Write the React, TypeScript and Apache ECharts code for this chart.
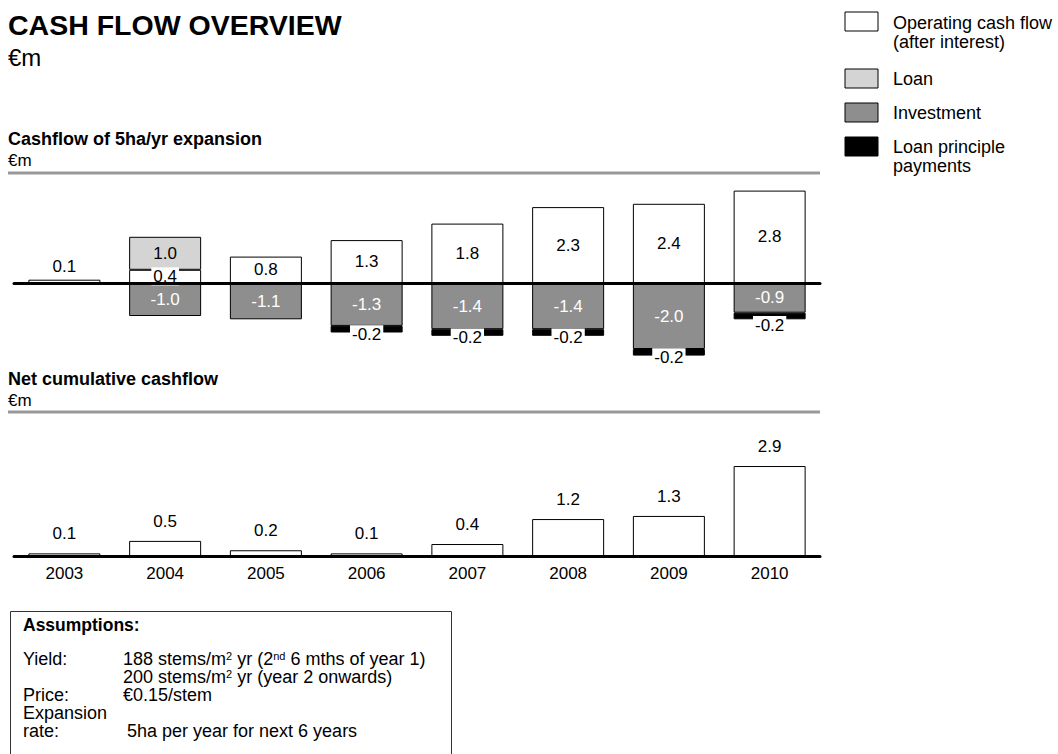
import React, { useEffect, useRef } from 'react';
import * as echarts from 'echarts';

const FONT = '"Liberation Sans", Arial, Helvetica, sans-serif';

const years = ['2003', '2004', '2005', '2006', '2007', '2008', '2009', '2010'];
const operating = [0.1, 0.4, 0.8, 1.3, 1.8, 2.3, 2.4, 2.8];
const loan: (number | null)[] = [null, 1.0, null, null, null, null, null, null];
const investment: (number | null)[] = [null, -1.0, -1.1, -1.3, -1.4, -1.4, -2.0, -0.9];
const principal: (number | null)[] = [null, null, null, -0.2, -0.2, -0.2, -0.2, -0.2];
const cumulative = [0.1, 0.5, 0.2, 0.1, 0.4, 1.2, 1.3, 2.9];

const legendNames = [
  ['Operating cash flow', '(after interest)'],
  ['Loan'],
  ['Investment'],
  ['Loan principle', 'payments'],
];

const fmt = (p: any) => Number(p.value).toFixed(1);
const v = (x: number | null) => (x === null ? '-' : x);

function buildOption() {
  const black = '#000';
  const txt = (x: number, y: number, text: string, size: number, bold = false, extra: any = {}) => ({
    type: 'text',
    x,
    y,
    style: {
      text,
      fontSize: size,
      fontWeight: bold ? 'bold' : 'normal',
      fontFamily: FONT,
      fill: black,
      verticalAlign: 'middle',
      ...extra,
    },
  });

  const legendColors = ['#ffffff', '#d4d4d4', '#8e8e8e', '#000000'];
  const legendTops = [12, 69, 103, 137];
  const legendTextY = [[23, 42], [79], [113], [147, 166]];
  const legendGraphics: any[] = [];
  legendNames.forEach((lines, i) => {
    legendGraphics.push({
      type: 'rect',
      shape: { x: 845, y: legendTops[i], width: 33, height: 19 },
      style: { fill: legendColors[i], stroke: '#000', lineWidth: 1 },
    });
    lines.forEach((l, j) => legendGraphics.push(txt(893, legendTextY[i][j], l, 18, false, { lineHeight: 18 })));
  });

  const rich = {
    a: { fontSize: 18, fontFamily: FONT, lineHeight: 17, verticalAlign: 'bottom' },
    s: { fontSize: 11, fontFamily: FONT, lineHeight: 5, verticalAlign: 'top' },
  };
  const richTxt = (x: number, y: number, text: string) => ({
    type: 'text',
    x,
    y,
    style: { text, rich, fill: black, verticalAlign: 'middle', fontSize: 18, fontFamily: FONT, lineHeight: 17 },
  });
  const at = (x: number, y: number, text: string) => txt(x, y, text, 18, false, { lineHeight: 17 });

  const graphic: any[] = [
    txt(8, 25, 'CASH FLOW OVERVIEW', 28.5, true),
    txt(8, 57, '€m', 24),
    txt(8, 139, 'Cashflow of 5ha/yr expansion', 18, true),
    txt(8, 160, '€m', 17),
    { type: 'rect', shape: { x: 8, y: 171.5, width: 812, height: 3 }, style: { fill: '#999' } },
    txt(8, 379, 'Net cumulative cashflow', 18, true),
    txt(8, 400, '€m', 17),
    { type: 'rect', shape: { x: 8, y: 410.5, width: 812, height: 3 }, style: { fill: '#999' } },
    ...legendGraphics,
    {
      type: 'rect',
      shape: { x: 10.5, y: 611.5, width: 441, height: 200 },
      style: { fill: 'none', stroke: '#333', lineWidth: 1 },
    },
    txt(23, 625, 'Assumptions:', 17.5, true),
    at(23, 659, 'Yield:'),
    richTxt(123, 659, '{a|188 stems/m}{s|2}{a| yr (2}{s|nd}{a| 6 mths of year 1)}'),
    richTxt(123, 677, '{a|200 stems/m}{s|2}{a| yr (year 2 onwards)}'),
    at(23, 695, 'Price:'),
    at(123, 695, '€0.15/stem'),
    at(23, 713, 'Expansion'),
    at(23, 731, 'rate:'),
    at(127, 731, '5ha per year for next 6 years'),
  ];

  const axisX = (grid: number, showLabels: boolean) => ({
    type: 'category',
    gridIndex: grid,
    data: years,
    z: 5,
    axisLine: { show: true, onZero: true, lineStyle: { color: '#000', width: 3 } },
    axisTick: { show: false },
    axisLabel: {
      show: showLabels,
      color: '#000',
      fontSize: 17,
      fontFamily: FONT,
      margin: 8,
    },
    splitLine: { show: false },
  });

  const baseLabel = { show: true, fontSize: 17, fontFamily: FONT, formatter: fmt };

  return {
    animation: false,
    backgroundColor: '#fff',
    textStyle: { fontFamily: FONT },
    grid: [
      { left: 14, top: 184, width: 806, height: 181.5 },
      { left: 14, top: 462.9, width: 806, height: 93.6 },
    ],
    xAxis: [axisX(0, false), axisX(1, true)],
    yAxis: [
      { type: 'value', gridIndex: 0, min: -2.5, max: 3, show: false, splitLine: { show: false } },
      { type: 'value', gridIndex: 1, min: 0, max: 3, show: false, splitLine: { show: false } },
    ],
    graphic,
    series: [
      {
        name: 'Operating cash flow (after interest)',
        type: 'bar',
        xAxisIndex: 0,
        yAxisIndex: 0,
        stack: 'cf',
        barWidth: 72,
        itemStyle: { color: '#fff', borderColor: '#000', borderWidth: 1 },
        label: { ...baseLabel, position: 'inside', color: '#000' },
        data: operating.map((x, i) =>
          i === 0
            ? { value: x, label: { position: 'top', distance: 5 } }
            : i === 1
            ? { value: x, label: { backgroundColor: '#fff', padding: [1, 2, 0, 2] } }
            : x
        ),
      },
      {
        name: 'Loan',
        type: 'bar',
        xAxisIndex: 0,
        yAxisIndex: 0,
        stack: 'cf',
        barWidth: 72,
        itemStyle: { color: '#d4d4d4', borderColor: '#000', borderWidth: 1 },
        label: { ...baseLabel, position: 'inside', color: '#000' },
        data: loan.map(v),
      },
      {
        name: 'Investment',
        type: 'bar',
        xAxisIndex: 0,
        yAxisIndex: 0,
        stack: 'cf',
        barWidth: 72,
        itemStyle: { color: '#8e8e8e', borderColor: '#000', borderWidth: 1 },
        label: { ...baseLabel, position: 'inside', color: '#fff' },
        data: investment.map(v),
      },
      {
        name: 'Loan principle payments',
        type: 'bar',
        xAxisIndex: 0,
        yAxisIndex: 0,
        stack: 'cf',
        barWidth: 72,
        itemStyle: { color: '#000', borderColor: '#000', borderWidth: 1 },
        label: {
          ...baseLabel,
          position: 'inside',
          color: '#000',
          backgroundColor: '#fff',
          padding: [1, 2, 0, 2],
          offset: [0, 5],
        },
        data: principal.map((x, i) =>
          i === 7 ? { value: x, label: { offset: [0, 9] } } : v(x)
        ),
      },
      {
        name: 'Net cumulative cashflow',
        type: 'bar',
        xAxisIndex: 1,
        yAxisIndex: 1,
        barWidth: 72,
        itemStyle: { color: '#fff', borderColor: '#000', borderWidth: 1 },
        label: { ...baseLabel, position: 'top', distance: 11, color: '#000' },
        data: cumulative,
      },
    ],
  };
}

export default function App() {
  const ref = useRef<HTMLDivElement>(null);
  useEffect(() => {
    const chart = echarts.init(ref.current!, null, { renderer: 'svg', width: 1058, height: 754 });
    chart.setOption(buildOption() as any);
    return () => chart.dispose();
  }, []);
  return (
    <div
      ref={ref}
      style={{ position: 'fixed', left: 0, top: 0, width: 1058, height: 754, background: '#fff' }}
    />
  );
}
